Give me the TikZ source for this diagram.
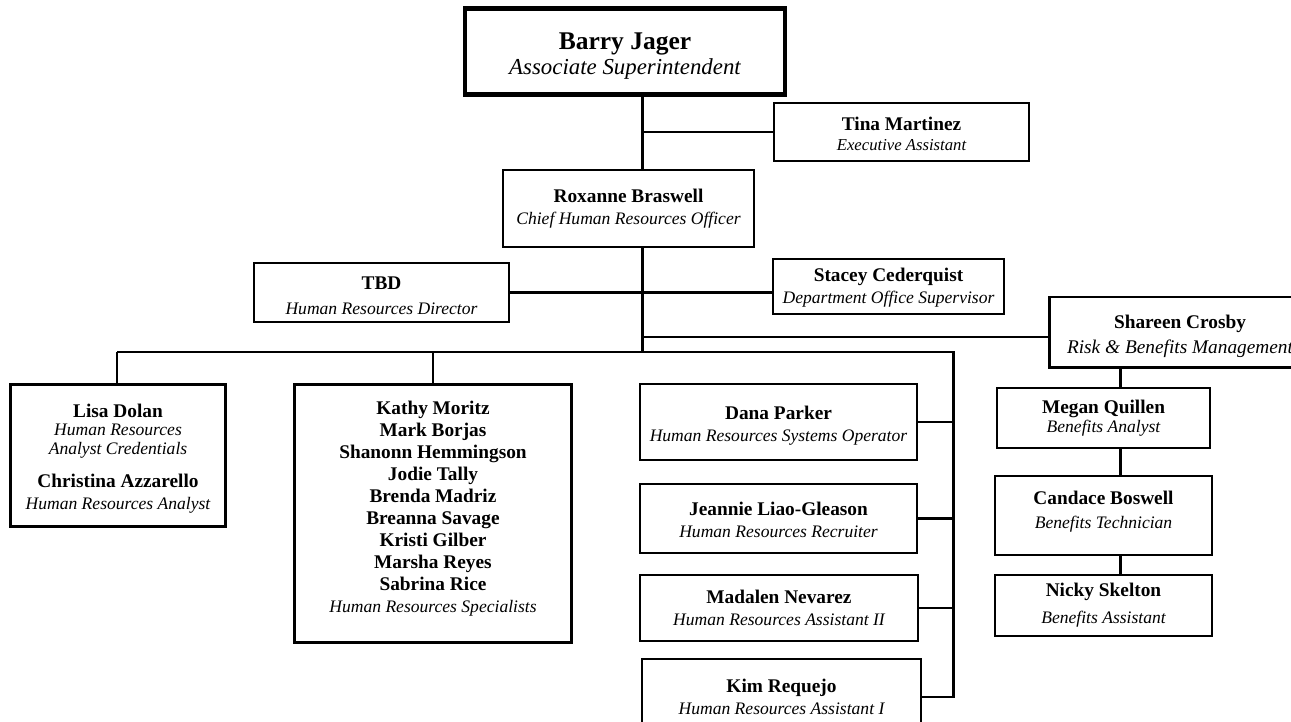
\documentclass[tikz,border=0pt]{standalone}
\usepackage{fontspec}
\setmainfont{Liberation Serif}
\tikzset{
    box/.style={draw, line width=0.8pt, align=center, inner sep=2pt,
            font=\fontsize{10}{12.5}\selectfont},
    heavybox/.style={box, line width=1.7pt},
    link/.style={line width=1.7pt},
}
\newcommand{\pname}[1]{{\fontsize{11}{13}\selectfont\bfseries #1}}
\newcommand{\ptitle}[1]{{\itshape #1}}
\newcommand{\topgap}[1]{\rule{0pt}{#1}}

\begin{document}
\begin{tikzpicture}[x=0.02cm, y=-0.02cm]
        \clip (0, 0) rectangle (1291, 722);
        %top of the chart
        \node[box, line width=2.4pt, minimum width=6.4cm, minimum height=1.72cm,
            font=\fontsize{13}{14.5}\selectfont] (barry) at (625, 51.5)
            {\topgap{15pt}{\fontsize{14.5}{17}\selectfont\bfseries Barry Jager}\\\ptitle{Associate Superintendent}};
        \node[box, minimum width=5.1cm, minimum height=1.16cm, font=\fontsize{9.5}{11.3}\selectfont] (tina) at (901.5, 132)
            {\topgap{10pt}\pname{Tina Martinez}\\\ptitle{Executive Assistant}};
        \node[box, minimum width=5.02cm, minimum height=1.54cm] (rox) at (628.5, 208.5)
            {\pname{Roxanne Braswell}\\\ptitle{Chief Human Resources Officer}};
        \node[box, minimum width=5.1cm, minimum height=1.18cm] (tbd) at (381.5, 292.5)
            {\topgap{10.7pt}\pname{TBD}\\[1.5pt]\ptitle{Human Resources Director}};
        \node[heavybox, line width=1.5pt, minimum width=4.62cm, minimum height=1.1cm] (stacey) at (888.5, 286.5)
            {\topgap{9.5pt}\pname{Stacey Cederquist}\\\ptitle{Department Office Supervisor}};
        \node[heavybox, minimum width=5.24cm, minimum height=1.42cm, font=\fontsize{11}{14}\selectfont] (shareen) at (1180, 332.5)
            {\topgap{12pt}\pname{Shareen Crosby}\\\ptitle{Risk \& Benefits Management}};
        %left groups
        \node[heavybox, minimum width=4.32cm, minimum height=2.86cm] (lisa) at (118, 455.5)
            {\topgap{11pt}\pname{Lisa Dolan}\\[-2pt]\ptitle{Human Resources}\\[-2pt]\ptitle{Analyst Credentials}\\[6.5pt]
            \pname{Christina Azzarello}\\\ptitle{Human Resources Analyst}};
        \node[heavybox, minimum width=5.56cm, minimum height=5.18cm] (kathy) at (433, 513.5)
            {\pname{Kathy Moritz}\\\pname{Mark Borjas}\\\pname{Shanonn Hemmingson}\\\pname{Jodie Tally}\\
            \pname{Brenda Madriz}\\\pname{Breanna Savage}\\\pname{Kristi Gilber}\\\pname{Marsha Reyes}\\
            \pname{Sabrina Rice}\\\ptitle{Human Resources Specialists}\\[-5pt]\mbox{}};
        %systems and assistants
        \node[heavybox, line width=1.5pt, minimum width=5.54cm, minimum height=1.52cm] (dana) at (778.5, 422)
            {\topgap{11.5pt}\pname{Dana Parker}\\\ptitle{Human Resources Systems Operator}};
        \node[box, minimum width=5.54cm, minimum height=1.38cm] (jeannie) at (778.5, 518.5)
            {\topgap{9.5pt}\pname{Jeannie Liao-Gleason}\\\ptitle{Human Resources Recruiter}};
        \node[box, minimum width=5.56cm, minimum height=1.32cm] (madalen) at (779, 608)
            {\pname{Madalen Nevarez}\\\ptitle{Human Resources Assistant II}};
        \node[box, minimum width=5.58cm, minimum height=1.52cm] (kim) at (781.5, 697)
            {\pname{Kim Requejo}\\\ptitle{Human Resources Assistant I}};
        %benefits
        \node[box, minimum width=4.26cm, minimum height=1.2cm] (megan) at (1103.5, 418)
            {\pname{Megan Quillen}\\[-1.5pt]\ptitle{Benefits Analyst}};
        \node[box, minimum width=4.34cm, minimum height=1.58cm] (candace) at (1103.5, 515.5)
            {\pname{Candace Boswell}\\[1.5pt]\ptitle{Benefits Technician}\\[-6pt]\mbox{}};
        \node[box, minimum width=4.34cm, minimum height=1.22cm] (nicky) at (1103.5, 605.5)
            {\pname{Nicky Skelton}\\[3pt]\ptitle{Benefits Assistant}};
        %lines
        \coordinate (spine) at (642, 352);
        \coordinate (barL) at (117, 352);
        \coordinate (barR) at (953, 352);
        \coordinate (railend) at (953, 698);
        \coordinate (shline) at (642, 337);
        \coordinate (chain) at (1120, 0);
        \draw[link] (barry.south -| spine) -- (rox.north -| spine);
        \draw[link] (tina.west -| spine) -- (tina.west);
        \draw[link] (rox.south -| spine) -- (spine);
        \draw[link] (tbd.east) -- (tbd.east -| stacey.west);
        \draw[link] (shline) -- (shline -| shareen.west);
        \draw[link] (barL) -- (barR) -- (railend);
        \draw[link] (barL) -- (barL |- lisa.north);
        \draw[link] (kathy.north |- barL) -- (kathy.north);
        \draw[link] (dana.east) -- (dana.east -| barR);
        \draw[link] (jeannie.east) -- (jeannie.east -| barR);
        \draw[link] (madalen.east) -- (madalen.east -| barR);
        \draw[link] (kim.east) -- (kim.east -| barR);
        \draw[link] (shareen.south -| chain) -- (megan.north -| chain);
        \draw[link] (megan.south -| chain) -- (candace.north -| chain);
        \draw[link] (candace.south -| chain) -- (nicky.north -| chain);
\end{tikzpicture}
\end{document}
